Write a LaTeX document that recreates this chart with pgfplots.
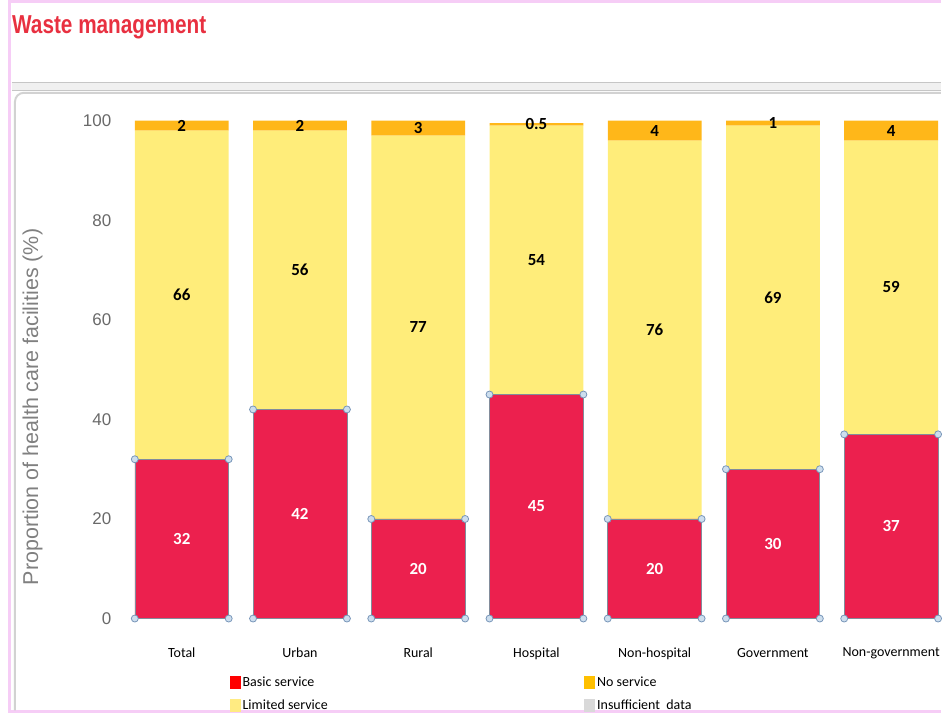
\documentclass[border=0pt]{standalone}
\usepackage{pgfplots}
\pgfplotsset{compat=1.18}
\usepackage{fontspec}
\setmainfont{Carlito}
\newfontfamily\arial{Liberation Sans}
\definecolor{basic}{RGB}{236,32,78}
\definecolor{limited}{RGB}{255,237,122}
\definecolor{nosvc}{RGB}{255,183,25}
\definecolor{titlered}{RGB}{232,48,64}
\definecolor{pinkframe}{RGB}{246,205,246}
\definecolor{tickgrey}{RGB}{105,105,105}
\definecolor{handlefill}{RGB}{205,222,238}
\definecolor{handledraw}{RGB}{120,150,185}
\definecolor{baredge}{RGB}{130,140,155}
\begin{document}
\begin{tikzpicture}[x=1pt,y=1pt]
\path (0,0) rectangle (943,715);
% frame decorations
\fill[pinkframe] (8,0) rectangle (943,3);
\fill[pinkframe] (8,0) rectangle (11,715);
\fill[pinkframe] (8,712) rectangle (943,715);
\fill[gray!12] (12,625) rectangle (943,633);
\draw[gray!45] (12,633)--(943,633);
\draw[gray!45] (12,625)--(943,625);
\draw[gray!35, line width=2pt, rounded corners=9pt] (15,3) -- (15,622) -- (943,622);
\node[anchor=west, inner sep=0pt, text=titlered] at (12,688)
  {\scalebox{0.8}[1]{\arial\bfseries\fontsize{26}{30}\selectfont Waste management}};
\begin{axis}[
  at={(117pt,95pt)}, anchor=south west, scale only axis,
  width=826pt, height=499pt,
  xmin=-0.55, xmax=6.42, ymin=0, ymax=100,
  ybar stacked, bar width=94pt,
  axis line style={draw=none}, major tick length=0pt,
  ytick={0,20,40,60,80,100},
  xtick={0,1,2,3,4,5,6},
  xticklabels={Total,Urban,Rural,Hospital,Non-hospital,Government,Non-government},
  /pgf/number format/assume math mode=true,
  yticklabel style={font=\arial\fontsize{17}{19}\selectfont, text=tickgrey, xshift=-2pt},
  xticklabel style={font=\fontsize{14}{16}\selectfont, yshift=-26pt},
  ylabel={Proportion of health care facilities (\%)},
  ylabel style={at={(axis description cs:-0.102,0.425)}, anchor=center,
    font=\arial\fontsize{21.5}{24}\selectfont, text=gray},
  point meta=rawy,
  nodes near coords,
  every node near coord/.append style={anchor=center,
    font=\bfseries\fontsize{17}{19}\selectfont},
]
\addplot[fill=basic, draw=baredge, line width=0.6pt,
  every node near coord/.append style={text=white}]
  coordinates {(0,32) (1,42) (2,20) (3,45) (4,20) (5,30) (6,37)};
\addplot[fill=limited, draw=none]
  coordinates {(0,66) (1,56) (2,77) (3,54) (4,76) (5,69) (6,59)};
\addplot[fill=nosvc, draw=none]
  coordinates {(0,2) (1,2) (2,3) (3,0.5) (4,4) (5,1) (6,4)};
\end{axis}
\begin{axis}[
  at={(117pt,95pt)}, anchor=south west, scale only axis,
  width=826pt, height=499pt,
  xmin=-0.55, xmax=6.42, ymin=0, ymax=100,
  hide axis, clip=false,
  legend columns=2,
  legend cell align=left,
  legend style={draw=none, fill=none, inner sep=0pt, anchor=north west,
    at={(0.1368,-0.113)}, font=\fontsize{14}{16}\selectfont,
    /tikz/every even column/.append style={column sep=255pt},
    /tikz/row sep=8pt},
  legend image code/.code={\fill[#1, draw=none] (0pt,-6pt) rectangle (11pt,7pt);},
]
\addplot[only marks, mark=*, mark size=3.5pt,
  mark options={fill=handlefill, draw=handledraw, line width=0.8pt}, forget plot]
  coordinates {
  (-0.397,0) (0.397,0) (-0.397,32) (0.397,32)
  (0.603,0) (1.397,0) (0.603,42) (1.397,42)
  (1.603,0) (2.397,0) (1.603,20) (2.397,20)
  (2.603,0) (3.397,0) (2.603,45) (3.397,45)
  (3.603,0) (4.397,0) (3.603,20) (4.397,20)
  (4.603,0) (5.397,0) (4.603,30) (5.397,30)
  (5.603,0) (6.397,0) (5.603,37) (6.397,37)};
\addlegendimage{fill=red}
\addlegendentry{Basic service}
\addlegendimage{fill={rgb,255:red,255;green,192;blue,0}}
\addlegendentry{No service}
\addlegendimage{fill={rgb,255:red,255;green,235;blue,130}}
\addlegendentry{Limited service}
\addlegendimage{fill={rgb,255:red,217;green,217;blue,217}}
\addlegendentry{Insufficient\ \ data}
\end{axis}
\end{tikzpicture}
\end{document}
